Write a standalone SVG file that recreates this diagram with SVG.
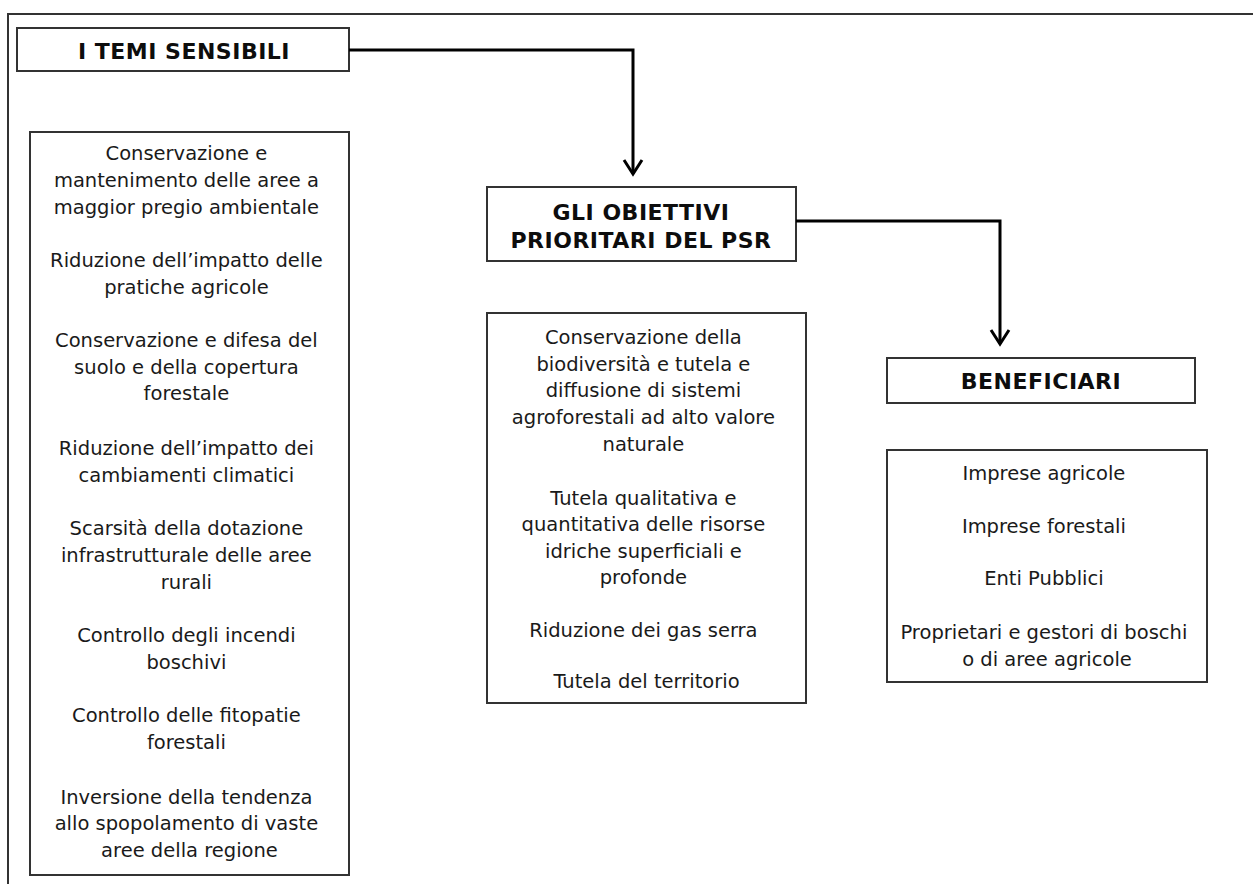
<svg xmlns="http://www.w3.org/2000/svg" width="1253" height="884" viewBox="0 0 1253 884">
<style>
.box{fill:#fff;stroke:#333;stroke-width:2}
.frame{fill:none;stroke:#333;stroke-width:2}
.hd{font-family:"DejaVu Sans",Verdana,sans-serif;font-weight:bold;font-size:22px;letter-spacing:0.5px;fill:#0d0d0d;text-anchor:middle}
.tx{font-family:"DejaVu Sans",Verdana,sans-serif;font-size:19.5px;fill:#1a1a1a;text-anchor:middle}
.con{fill:none;stroke:#000;stroke-width:3}
</style>
<rect width="1253" height="884" fill="#fff"/>
<path class="frame" d="M8 884 V14 H1253"/>
<g id="temi">
<rect class="box" x="17" y="28" width="332" height="43"/>
<text class="hd" x="184" y="59">I TEMI SENSIBILI</text>
</g>
<g id="temi-list">
<rect class="box" x="30" y="132" width="319" height="743"/>
<text class="tx">
<tspan x="189.5" y="160">Conservazione e</tspan>
<tspan x="189.5" y="187">mantenimento delle aree a</tspan>
<tspan x="189.5" y="214">maggior pregio ambientale</tspan>
<tspan x="189.5" y="267">Riduzione dell’impatto delle</tspan>
<tspan x="189.5" y="294">pratiche agricole</tspan>
<tspan x="189.5" y="347">Conservazione e difesa del</tspan>
<tspan x="189.5" y="374">suolo e della copertura</tspan>
<tspan x="189.5" y="400">forestale</tspan>
<tspan x="189.5" y="455">Riduzione dell’impatto dei</tspan>
<tspan x="189.5" y="482">cambiamenti climatici</tspan>
<tspan x="189.5" y="535">Scarsità della dotazione</tspan>
<tspan x="189.5" y="562">infrastrutturale delle aree</tspan>
<tspan x="189.5" y="589">rurali</tspan>
<tspan x="189.5" y="642">Controllo degli incendi</tspan>
<tspan x="189.5" y="669">boschivi</tspan>
<tspan x="189.5" y="722">Controllo delle fitopatie</tspan>
<tspan x="189.5" y="749">forestali</tspan>
<tspan x="189.5" y="804">Inversione della tendenza</tspan>
<tspan x="189.5" y="830">allo spopolamento di vaste</tspan>
<tspan x="189.5" y="857">aree della regione</tspan>
</text>
</g>
<g id="obiettivi">
<rect class="box" x="487" y="187" width="309" height="74"/>
<text class="hd"><tspan x="641" y="220">GLI OBIETTIVI</tspan><tspan x="641" y="248">PRIORITARI DEL PSR</tspan></text>
</g>
<g id="obiettivi-list">
<rect class="box" x="487" y="313" width="319" height="390"/>
<text class="tx">
<tspan x="646.5" y="344">Conservazione della</tspan>
<tspan x="646.5" y="371">biodiversità e tutela e</tspan>
<tspan x="646.5" y="397">diffusione di sistemi</tspan>
<tspan x="646.5" y="424">agroforestali ad alto valore</tspan>
<tspan x="646.5" y="451">naturale</tspan>
<tspan x="646.5" y="505">Tutela qualitativa e</tspan>
<tspan x="646.5" y="531">quantitativa delle risorse</tspan>
<tspan x="646.5" y="558">idriche superficiali e</tspan>
<tspan x="646.5" y="584">profonde</tspan>
<tspan x="646.5" y="637">Riduzione dei gas serra</tspan>
<tspan x="646.5" y="688">Tutela del territorio</tspan>
</text>
</g>
<g id="beneficiari">
<rect class="box" x="887" y="358" width="308" height="45"/>
<text class="hd" x="1041" y="389">BENEFICIARI</text>
</g>
<g id="beneficiari-list">
<rect class="box" x="887" y="450" width="320" height="232"/>
<text class="tx">
<tspan x="1047" y="480">Imprese agricole</tspan>
<tspan x="1047" y="533">Imprese forestali</tspan>
<tspan x="1047" y="585">Enti Pubblici</tspan>
<tspan x="1047" y="639">Proprietari e gestori di boschi</tspan>
<tspan x="1047" y="666">o di aree agricole</tspan>
</text>
</g>
<g id="connectors">
<path class="con" d="M349 50 H633 V174"/>
<path class="con" d="M624 160 L633 174 L642 160"/>
<path class="con" d="M796 221 H1000 V344"/>
<path class="con" d="M991 330 L1000 344 L1009 330"/>
</g>
</svg>
